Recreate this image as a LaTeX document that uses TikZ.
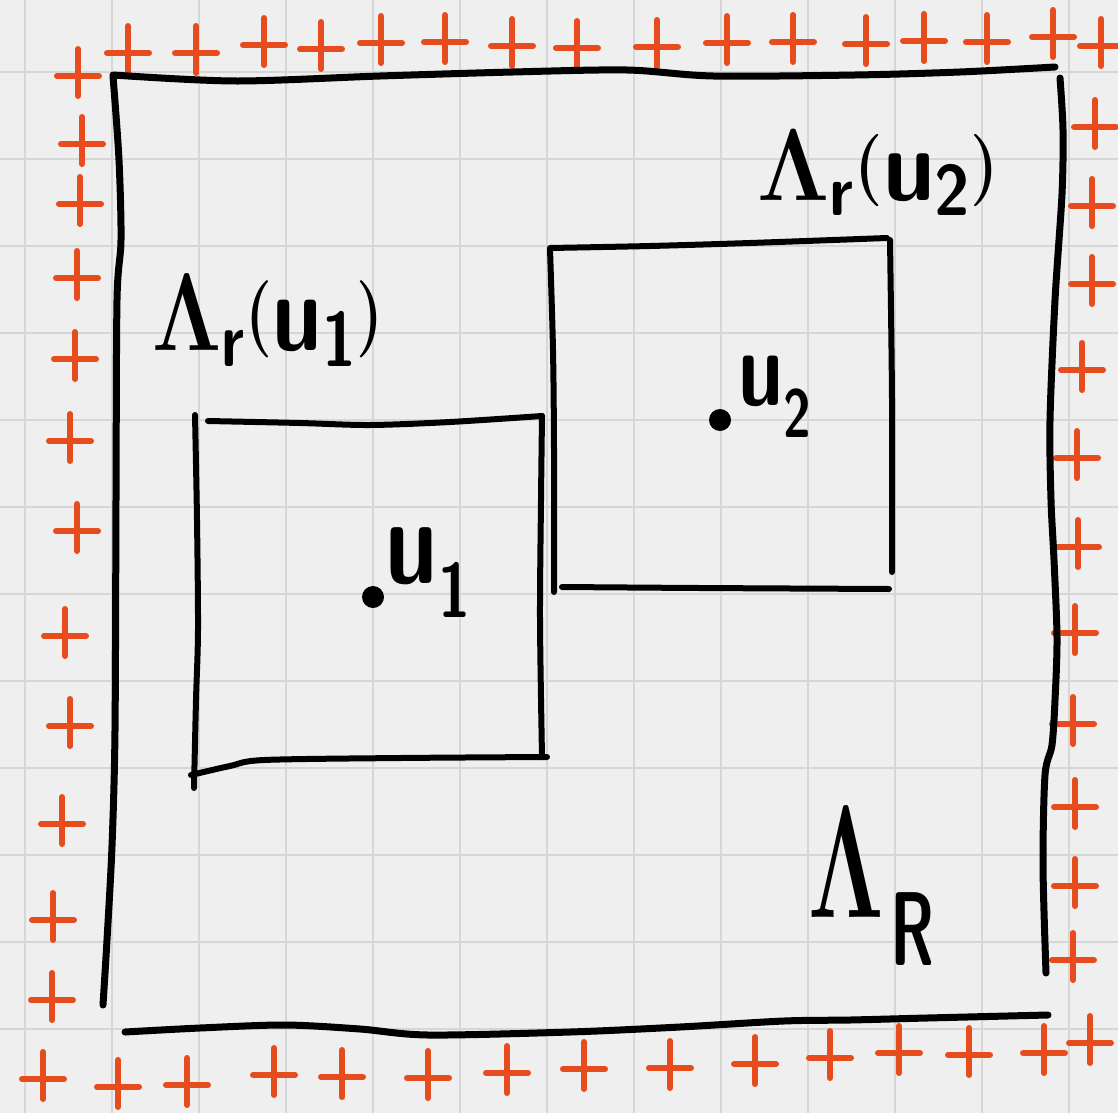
\RequirePackage{fix-cm}
\documentclass[tikz,border=0pt]{standalone}
\usepackage{graphicx}
\definecolor{paper}{RGB}{239,239,239}
\definecolor{gridgray}{RGB}{214,214,214}
\definecolor{crossred}{RGB}{231,76,30}
\newcommand\lowsub[3]{\lower#1\hbox{\fontsize{#2}{#2}\selectfont$\mathsf{#3}$}}
\newcommand\smallparen[2]{\raise#1\hbox{\fontsize{#2}{#2}\selectfont$($}}
\newcommand\smallcparen[2]{\raise#1\hbox{\fontsize{#2}{#2}\selectfont$)$}}
\tikzset{
  pluscross/.pic={
    \draw[crossline] (-21,0) -- (21,0);
    \draw[crossline] (0,-27) -- (0,20);
  }
}
\begin{document}
\begin{tikzpicture}[x=1pt,y=-1pt,
  ink/.style={line width=7pt,line cap=round,line join=round,draw=black},
  thinink/.style={line width=6pt,line cap=round,line join=round,draw=black},
  crossline/.style={line width=6pt,line cap=round,draw=crossred},
  gridline/.style={line width=2pt,draw=gridgray},
  lab/.style={inner sep=0pt,anchor=base west,text=black},
  dotnode/.style={circle,fill=black,inner sep=0pt,minimum size=22pt}]
\useasboundingbox (0,0) rectangle (1118,1113);
\fill[paper] (0,0) rectangle (1118,1113);
% grid paper
\foreach \i in {0,...,12} \draw[gridline] ({25+87*\i},0) -- ({25+87*\i},1113);
\foreach \j in {0,...,11} \draw[gridline] (0,{72+87*\j}) -- (1118,{72+87*\j});

% red crosses (boundary)
\foreach \x/\y in {128/53,196/53,264/45,321/49,381/43,445/42,512/46,577/48,657/47,727/43,793/42,866/44,924/41,987/42,1053/37,1101/46}
  \pic at (\x,\y) {pluscross};
\foreach \x/\y in {78/76,82/144,80/204,77/278,75/359,70/441,77/531,65/636,70/726,62/824,53/920,52/1000}
  \pic at (\x,\y) {pluscross};
\foreach \x/\y in {43/1079,118/1087,187/1085,274/1075,342/1077,428/1078,507/1073,584/1069,670/1068,755/1064,830/1058,899/1053,969/1055,1044/1053,1090/1043}
  \pic at (\x,\y) {pluscross};
\foreach \x/\y in {1095/127,1092/206,1092/284,1082/370,1077/458,1078/547,1075/633,1073/724,1075/807,1075/886,1073/960}
  \pic at (\x,\y) {pluscross};

% outer box Lambda_R
\draw[ink] plot[smooth] coordinates {(113,75) (235,81) (380,76) (513,72) (627,70) (713,76) (855,75) (960,72) (1055,67)};
\draw[ink] plot[smooth] coordinates {(113,76) (119,160) (121,240) (117,300) (116,500) (115,731) (112,846) (107,940) (103,1005)};
\draw[ink] plot[smooth] coordinates {(1060,78) (1063,130) (1062,194) (1055,300) (1050,420) (1051,500) (1054,560) (1057,638) (1055,700) (1052,745) (1045,775) (1043,866) (1046,973)};
\draw[ink] plot[smooth] coordinates {(125,1032) (200,1028) (285,1025) (360,1029) (428,1035) (570,1032) (680,1027) (784,1021) (850,1020) (927,1018) (1048,1015)};

% box Lambda_r(u_1)
\draw[thinink] plot[smooth] coordinates {(195,415) (197,520) (198,630) (196,700) (194,788)};
\draw[thinink] plot[smooth] coordinates {(208,421) (300,423) (370,425) (450,422) (542,416)};
\draw[thinink] plot[smooth] coordinates {(542,416) (541,500) (540,620) (542,757)};
\draw[thinink] plot[smooth] coordinates {(191,775) (230,766) (264,760) (400,758) (547,757)};

% box Lambda_r(u_2)
\draw[thinink] plot[smooth] coordinates {(550,249) (553,350) (554,450) (554,592)};
\draw[thinink] plot[smooth] coordinates {(550,248) (650,246) (750,243) (887,238)};
\draw[thinink] plot[smooth] coordinates {(890,240) (892,400) (892,572)};
\draw[thinink] plot[smooth] coordinates {(562,587) (700,588) (889,589)};

% points
\node[dotnode] (u1) at (373,597) {};
\node[dotnode] (u2) at (720,420) {};

% labels
\node[lab,font=\fontsize{122}{130}\selectfont\boldmath] (labu1) at (385,583) {\scalebox{0.76}[1]{$\mathsf{u}\kern2pt\lowsub{34pt}{77}{1}$}};
\node[lab,font=\fontsize{108}{115}\selectfont\boldmath] (labu2) at (738,405) {\scalebox{0.74}[1]{$\mathsf{u}\kern0pt\lowsub{32pt}{68}{2}$}};
\node[lab,font=\fontsize{110}{120}\selectfont\boldmath] (lab1) at (152,350) {\scalebox{0.8}[1]{$\mathbf{\Lambda}_{\mathsf{r}}\smallparen{12pt}{77}\mathsf{u}_{\mathsf{1}}\smallcparen{12pt}{77}$}};
\node[lab,font=\fontsize{102}{110}\selectfont\boldmath] (lab2) at (757,200) {\scalebox{0.9}[1]{$\mathbf{\Lambda}_{\mathsf{r}}\smallparen{12pt}{72}\mathsf{u}_{\mathsf{2}}\smallcparen{12pt}{72}$}};
\node[lab,font=\fontsize{160}{170}\selectfont\boldmath] (labR) at (808,917) {\scalebox{0.6}[1]{$\mathbf{\Lambda}\kern12pt\lowsub{48pt}{105}{R}$}};
\end{tikzpicture}
\end{document}
